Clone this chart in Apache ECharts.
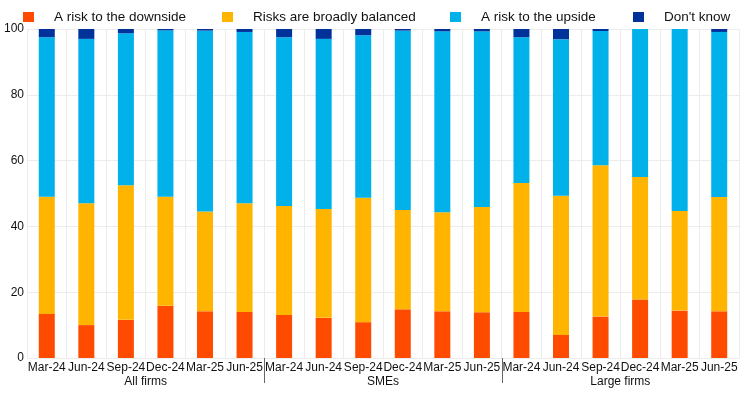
<!DOCTYPE html>
<html>
<head>
<meta charset="utf-8">
<script src="https://cdn.jsdelivr.net/npm/echarts@6/dist/echarts.min.js"></script>
<style>html,body{margin:0;padding:0;background:#fff}#c{width:744px;height:393px}</style>
</head>
<body>
<div id="c"></div>
<script>
const periods = ['Mar-24','Jun-24','Sep-24','Dec-24','Mar-25','Jun-25'];
const groups = ['All firms','SMEs','Large firms'];
const seriesNames = ['A risk to the downside','Risks are broadly balanced','A risk to the upside',"Don't know"];
const colors = ['#FF4B00','#FFB400','#00B1EA','#003299'];
// segment values (percent), 18 bars: All firms x6, SMEs x6, Large firms x6
const downside = [13.4,10.0,11.6,15.9,14.2,14.0, 13.1,12.2,10.9,14.8,14.2,13.9, 14.0,7.0,12.6,17.8,14.4,14.2];
const balanced = [35.6,37.0,40.9,33.1,30.3,33.0, 33.1,33.1,37.8,30.2,30.1,32.0, 39.2,42.3,46.0,37.2,30.3,34.7];
const upside   = [48.5,50.0,46.2,50.6,55.0,52.1, 51.3,51.7,49.4,54.5,55.0,53.4, 44.3,47.6,40.8,45.0,55.3,50.2];
const dontKnow = [2.5,3.0,1.3,0.4,0.5,0.9, 2.5,3.0,1.9,0.5,0.7,0.7, 2.5,3.1,0.6,0.0,0.0,0.9];
const yTicks = [0,20,40,60,80,100];

const categories = [];
groups.forEach(g => periods.forEach(p => categories.push(p)));
const values = [downside, balanced, upside, dontKnow];
const font = 'Arial, "Liberation Sans", sans-serif';
const legendLefts = [23, 222, 450, 633];

const chart = echarts.init(document.getElementById('c'));
chart.setOption({
  animation: false,
  textStyle: {fontFamily: font},
  legend: seriesNames.map((n, i) => ({
    data: [n], left: legendLefts[i], top: 10, padding: 0, itemWidth: 11, itemHeight: 10,
    icon: 'rect', selectedMode: false,
    textStyle: {fontSize: 13.5, color: '#111', fontFamily: font, padding: [0,0,0,15]}
  })),
  grid: {left: 27, right: 5, top: 29, bottom: 35},
  xAxis: [{
    type: 'category', data: categories,
    axisLine: {show: false},
    axisTick: {show: false},
    axisLabel: {interval: 0, fontSize: 12, color: '#111', margin: 4, fontFamily: font},
    splitLine: {show: true, interval: 0, lineStyle: {color: '#ececec', width: 1}}
  }, {
    type: 'category', data: groups, position: 'bottom', gridIndex: 0,
    axisLine: {show: false}, axisTick: {show: false}, splitLine: {show: false},
    axisLabel: {fontSize: 12, color: '#111', margin: 18, fontFamily: font}
  }],
  yAxis: {
    type: 'value', min: yTicks[0], max: yTicks[yTicks.length-1], interval: 20,
    axisLine: {show: false}, axisTick: {show: false},
    axisLabel: {fontSize: 12, color: '#111', margin: 3, fontFamily: font},
    splitLine: {show: true, lineStyle: {color: '#ececec', width: 1}}
  },
  series: seriesNames.map((n, i) => ({
    name: n, type: 'bar', stack: 'total', xAxisIndex: 0,
    data: values[i], barWidth: 16,
    itemStyle: {color: colors[i]}
  }))
});

// group separators between category groups, placed via the axis scale
const y0 = chart.convertToPixel({yAxisIndex: 0}, 0);
const seps = [];
for (let g = 1; g < groups.length; g++) {
  const a = chart.convertToPixel({xAxisIndex: 0}, g * periods.length - 1);
  const b = chart.convertToPixel({xAxisIndex: 0}, g * periods.length);
  const x = Math.round((a + b) / 2) + 0.5;
  seps.push({type: 'line', shape: {x1: x, y1: y0, x2: x, y2: y0 + 25},
    style: {stroke: '#666', lineWidth: 1}, silent: true});
}
chart.setOption({graphic: seps});
</script>
</body>
</html>
